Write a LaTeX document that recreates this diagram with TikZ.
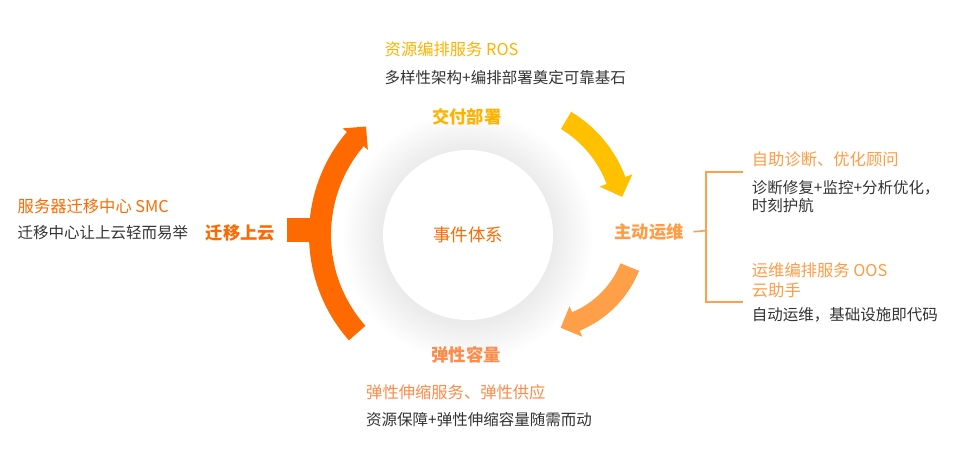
\documentclass[tikz,border=0pt]{standalone}
\usepackage{fontspec}
\setmainfont{Noto Sans CJK SC}
\usepackage{xcolor}
\definecolor{DEPLOYCOLOR}{HTML}{FFC000}
\definecolor{DEPLOYTEXT}{HTML}{FFB300}
\definecolor{OPSCOLOR}{HTML}{FFA048}
\definecolor{OPSTEXT}{HTML}{FF9C45}
\definecolor{SCALETEXT}{HTML}{FF8A4A}
\definecolor{MIGRATECOLOR}{HTML}{FF6A00}
\definecolor{TEXTCOLOR}{HTML}{333333}
\usepackage{tikz}
\usetikzlibrary{positioning,calc}
\tikzset{
  stage-style/.style = {
    font=\bfseries\fontsize{17.3}{20}\selectfont,
    text=#1, inner sep=0pt
  },
  title-style/.style = {
    font=\fontsize{16.3}{20}\selectfont,
    text=#1, anchor=west, inner sep=0pt, align=left
  },
  desc-style/.style = {
    font=\fontsize{15.5}{18.3}\selectfont,
    text=TEXTCOLOR, anchor=west, inner sep=0pt, align=left
  },
  hub-style/.style = {
    circle, fill=white, minimum size=170pt, inner sep=0pt,
    font=\fontsize{17.5}{20}\selectfont, text=MIGRATECOLOR
  },
  bracket-style/.style = {
    draw=OPSCOLOR, line width=1.6pt
  }
}
\def\cycleArrow center:#1 radius:#2 from:#3 to:#4 width:#5 head:#6 color:#7;{
  \fill[#7] ($(#1)+({#3}:{#2+#5/2})$)
    arc[start angle=#3, end angle=#4, radius={#2+#5/2}]
    -- ($(#1)+({#4}:{#2+#6})$)
    -- ($(#1)+({#4}:{#2})+({#4-90}:{#6})$)
    -- ($(#1)+({#4}:{#2-#6})$)
    -- ($(#1)+({#4}:{#2-#5/2})$)
    arc[start angle=#4, end angle=#3, radius={#2-#5/2}]
    -- cycle;
}
\begin{document}
\begin{tikzpicture}[x=1pt, y=1pt]
  \path[use as bounding box, fill=white] (0,0) rectangle (957,462);

  % soft shadow round the hub
  \coordinate (hubCenter) at (468,227);
  \foreach \g in {1,...,20}
    \fill[black, opacity=0.004] ([yshift=-2pt]hubCenter) circle ({85+2*\g});
  \node[hub-style] (hub) at (hubCenter) {事件体系};

  % cycle arrows
  \coordinate (deployCenter) at (505,240);
  \coordinate (scaleCenter) at (538,232);
  \cycleArrow center:deployCenter radius:118.5 from:59 to:20.5 width:20 head:17.5 color:DEPLOYCOLOR;
  \cycleArrow center:scaleCenter radius:99 from:-22 to:-67.5 width:20 head:16.5 color:OPSCOLOR;
  \cycleArrow center:hubCenter radius:148 from:221.5 to:139.6 width:22 head:16.5 color:MIGRATECOLOR;
  \fill[MIGRATECOLOR] (286.5,219.7) rectangle (320,243.7);

  % stages
  \node[stage-style=DEPLOYTEXT] (deploy) at (466.7,345.3) {交付部署};
  \node[stage-style=OPSTEXT] (ops) at (649,230.3) {主动运维};
  \node[stage-style=SCALETEXT] (scale) at (466,107) {弹性容量};
  \node[stage-style=MIGRATECOLOR] (migrate) at (240.3,228.7) {迁移上云};

  % services
  \node[title-style=DEPLOYTEXT] (rosTitle) at (384.5,412.7) {资源编排服务 ROS};
  \node[desc-style, below=28.4pt of rosTitle.west, anchor=west] (rosDesc) {多样性架构+编排部署奠定可靠基石};

  \node[title-style=OPSTEXT] (diagTitle) at (751.7,302.7) {自助诊断、优化顾问};
  \node[desc-style, below=37.5pt of diagTitle.west, anchor=west] (diagDesc) {诊断修复+监控+分析优化，\\时刻护航};
  \node[title-style=OPSTEXT] (oosTitle) at (751.7,182) {运维编排服务 OOS\\云助手};
  \node[desc-style, below=35pt of oosTitle.west, anchor=west] (oosDesc) {自动运维，基础设施即代码};

  \node[title-style=SCALETEXT] (essTitle) at (366,69.7) {弹性伸缩服务、弹性供应};
  \node[desc-style, below=27.7pt of essTitle.west, anchor=west] (essDesc) {资源保障+弹性伸缩容量随需而动};

  \node[title-style=MIGRATECOLOR] (smcTitle) at (17.5,256) {服务器迁移中心 SMC};
  \node[desc-style, below=26.3pt of smcTitle.west, anchor=west] (smcDesc) {迁移中心让上云轻而易举};

  % bracket
  \coordinate (braceMid) at (706,231.3);
  \coordinate (braceTop) at (742.7,289.7);
  \coordinate (braceBot) at (742.7,159.7);
  \draw[bracket-style] ([xshift=9.5pt]ops.east) -- (braceMid);
  \draw[bracket-style] (braceTop) -| (braceMid) |- (braceBot);
\end{tikzpicture}
\end{document}
